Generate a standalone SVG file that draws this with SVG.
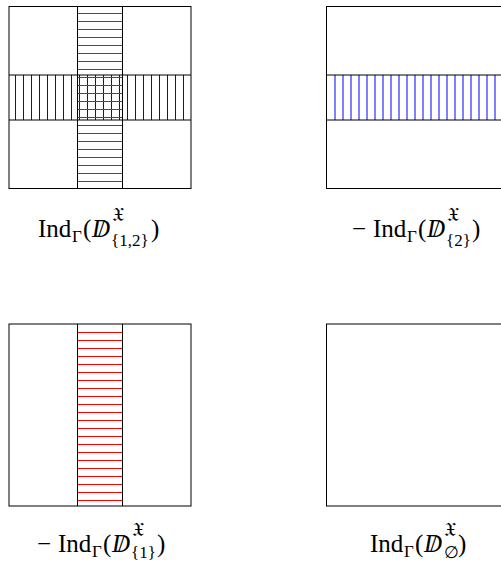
<svg xmlns="http://www.w3.org/2000/svg" width="501" height="561" viewBox="0 0 501 561">
<style>
.box{fill:none;stroke:#000;stroke-width:1}
.hr{fill:none;stroke:#ff0000;stroke-width:1}
.hb{fill:none;stroke:#0000ff;stroke-width:1}
.lbl{font-family:"Liberation Serif","DejaVu Serif",serif;font-size:25px;fill:#000}
.sm{font-size:17px}
.it{font-style:italic}
.fr{font-family:"DejaVu Sans","DejaVu Serif","Noto Sans",serif;font-size:20px}
</style>
<rect x="0" y="0" width="501" height="561" fill="#ffffff"/>
<g id="connectors"></g>

<g id="node-both">
<path class="hb" d="M15.5 75V120M23.5 75V120M31.5 75V120M39.5 75V120M47.5 75V120M55.5 75V120M63.5 75V120M71.5 75V120M79.5 75V120M87.5 75V120M95.5 75V120M103.5 75V120M111.5 75V120M119.5 75V120M127.5 75V120M135.5 75V120M143.5 75V120M151.5 75V120M159.5 75V120M167.5 75V120M175.5 75V120M183.5 75V120"/>
<path class="hr" d="M77.5 13.5H122.5M77.5 21.5H122.5M77.5 29.5H122.5M77.5 37.5H122.5M77.5 45.5H122.5M77.5 53.5H122.5M77.5 61.5H122.5M77.5 69.5H122.5M77.5 77.5H122.5M77.5 85.5H122.5M77.5 93.5H122.5M77.5 101.5H122.5M77.5 109.5H122.5M77.5 117.5H122.5M77.5 125.5H122.5M77.5 133.5H122.5M77.5 141.5H122.5M77.5 149.5H122.5M77.5 157.5H122.5M77.5 165.5H122.5M77.5 173.5H122.5M77.5 181.5H122.5"/>
<rect class="box" x="9" y="6.5" width="182" height="182"/>
<path class="box" d="M77.5 6.5V188.5M122.5 6.5V188.5M9 75H191M9 120H191"/>
<text class="lbl"><tspan x="38" y="237">Ind</tspan><tspan class="sm" x="72" y="242">Γ</tspan><tspan x="83" y="237">(</tspan><tspan class="it" x="92" y="237">D</tspan><tspan x="98" y="237">/</tspan><tspan class="fr" x="112" y="221">𝔛</tspan><tspan class="sm" x="111" y="246">{1,2}</tspan><tspan x="151" y="237">)</tspan></text>
</g>

<g id="node-two">
<path class="hb" d="M335 75V120M343 75V120M351 75V120M359 75V120M367 75V120M375 75V120M383 75V120M391 75V120M399 75V120M407 75V120M415 75V120M423 75V120M431 75V120M439 75V120M447 75V120M455 75V120M463 75V120M471 75V120M479 75V120M487 75V120M495 75V120M503 75V120"/>
<rect class="box" x="326.5" y="6.5" width="182" height="182"/>
<path class="box" d="M326.5 75H508.5M326.5 120H508.5"/>
<text class="lbl"><tspan x="352" y="237">−</tspan><tspan x="373" y="237">Ind</tspan><tspan class="sm" x="407" y="242">Γ</tspan><tspan x="418" y="237">(</tspan><tspan class="it" x="427" y="237">D</tspan><tspan x="433" y="237">/</tspan><tspan class="fr" x="447" y="221">𝔛</tspan><tspan class="sm" x="446" y="246">{2}</tspan><tspan x="472" y="237">)</tspan></text>
</g>

<g id="node-one">
<path class="hr" d="M77.5 332.5H122.5M77.5 340.5H122.5M77.5 348.5H122.5M77.5 356.5H122.5M77.5 364.5H122.5M77.5 372.5H122.5M77.5 380.5H122.5M77.5 388.5H122.5M77.5 396.5H122.5M77.5 404.5H122.5M77.5 412.5H122.5M77.5 420.5H122.5M77.5 428.5H122.5M77.5 436.5H122.5M77.5 444.5H122.5M77.5 452.5H122.5M77.5 460.5H122.5M77.5 468.5H122.5M77.5 476.5H122.5M77.5 484.5H122.5M77.5 492.5H122.5M77.5 500.5H122.5"/>
<rect class="box" x="9" y="324" width="182" height="182"/>
<path class="box" d="M77.5 324V506M122.5 324V506"/>
<text class="lbl"><tspan x="37" y="552">−</tspan><tspan x="58" y="552">Ind</tspan><tspan class="sm" x="92" y="557">Γ</tspan><tspan x="103" y="552">(</tspan><tspan class="it" x="112" y="552">D</tspan><tspan x="118" y="552">/</tspan><tspan class="fr" x="132" y="536">𝔛</tspan><tspan class="sm" x="131" y="558">{1}</tspan><tspan x="157" y="552">)</tspan></text>
</g>

<g id="node-none">
<rect class="box" x="326.5" y="324" width="182" height="182"/>
<text class="lbl"><tspan x="370" y="552">Ind</tspan><tspan class="sm" x="404" y="557">Γ</tspan><tspan x="415" y="552">(</tspan><tspan class="it" x="424" y="552">D</tspan><tspan x="430" y="552">/</tspan><tspan class="fr" x="444" y="536">𝔛</tspan><tspan class="sm" x="444" y="558">∅</tspan><tspan x="458" y="552">)</tspan></text>
</g>
</svg>
